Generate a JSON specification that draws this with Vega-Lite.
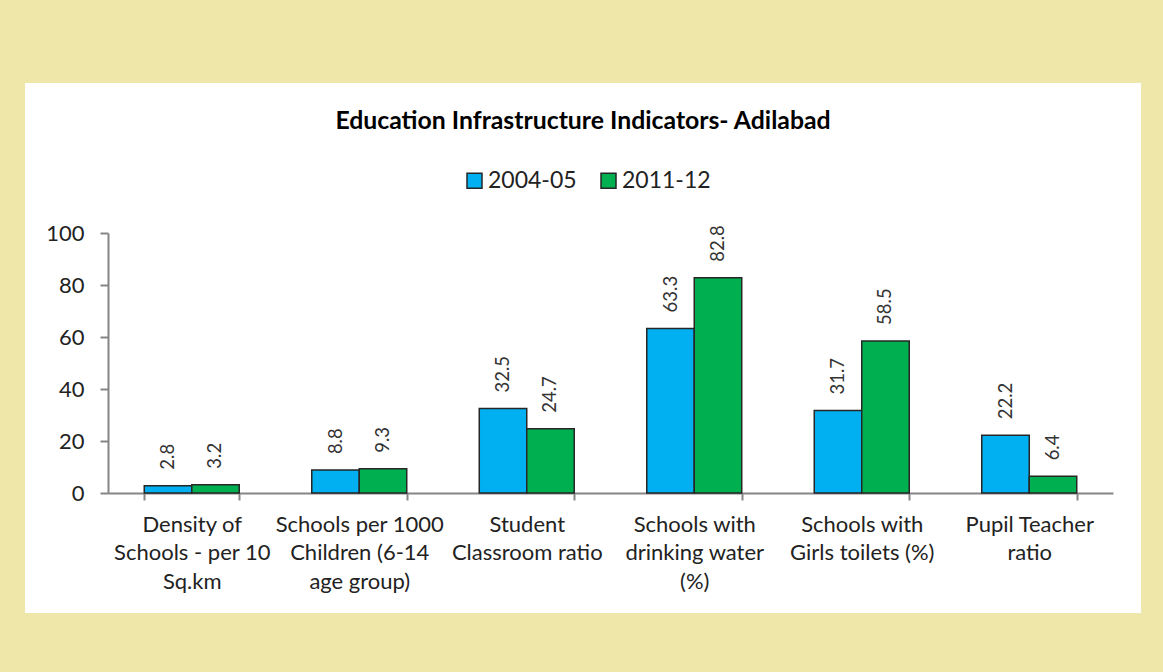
{
  "$schema": "https://vega.github.io/schema/vega-lite/v6.json",
  "width": 1116,
  "height": 530,
  "autosize": {"type": "none"},
  "padding": {"left": 25, "top": 83, "right": 22, "bottom": 59},
  "background": "#EFE6A9",
  "config": {
    "view": {"fill": "white", "stroke": null},
    "font": "Lato"
  },
  "title": {
    "text": "Education Infrastructure Indicators- Adilabad",
    "fontSize": 24.8,
    "fontWeight": "bold",
    "font": "Lato",
    "color": "#000000",
    "anchor": "middle",
    "frame": "group",
    "orient": "top",
    "baseline": "alphabetic",
    "offset": 0,
    "dy": 71
  },
  "data": {
    "values": [
      {"indicator": "Density of Schools - per 10 Sq.km", "year": "2004-05", "value": 2.8},
      {"indicator": "Density of Schools - per 10 Sq.km", "year": "2011-12", "value": 3.2},
      {"indicator": "Schools per 1000 Children (6-14 age group)", "year": "2004-05", "value": 8.8},
      {"indicator": "Schools per 1000 Children (6-14 age group)", "year": "2011-12", "value": 9.3},
      {"indicator": "Student Classroom ratio", "year": "2004-05", "value": 32.5},
      {"indicator": "Student Classroom ratio", "year": "2011-12", "value": 24.7},
      {"indicator": "Schools with drinking water (%)", "year": "2004-05", "value": 63.3},
      {"indicator": "Schools with drinking water (%)", "year": "2011-12", "value": 82.8},
      {"indicator": "Schools with Girls toilets (%)", "year": "2004-05", "value": 31.7},
      {"indicator": "Schools with Girls toilets (%)", "year": "2011-12", "value": 58.5},
      {"indicator": "Pupil Teacher ratio", "year": "2004-05", "value": 22.2},
      {"indicator": "Pupil Teacher ratio", "year": "2011-12", "value": 6.4}
    ]
  },
  "encoding": {
    "x": {
      "field": "indicator",
      "type": "nominal",
      "sort": null,
      "scale": {"range": [83, 1088], "paddingInner": 0.433, "paddingOuter": 0.2165},
      "axis": {
        "title": null,
        "offset": -120,
        "labelAngle": 0,
        "labelFontSize": 22,
        "labelLineHeight": 28.5,
        "labelColor": "#222222",
        "labelPadding": 14,
        "labelLimit": 400,
        "tickBand": "extent",
        "tickSize": 7,
        "tickWidth": 2,
        "tickColor": "#868686",
        "domainColor": "#868686",
        "domainWidth": 2,
        "grid": false,
        "labelExpr": "datum.value == 'Density of Schools - per 10 Sq.km' ? ['Density of', 'Schools - per 10', 'Sq.km'] : datum.value == 'Schools per 1000 Children (6-14 age group)' ? ['Schools per 1000', 'Children (6-14', 'age group)'] : datum.value == 'Student Classroom ratio' ? ['Student', 'Classroom ratio'] : datum.value == 'Schools with drinking water (%)' ? ['Schools with', 'drinking water', '(%)'] : datum.value == 'Schools with Girls toilets (%)' ? ['Schools with', 'Girls toilets (%)'] : datum.value == 'Pupil Teacher ratio' ? ['Pupil Teacher', 'ratio'] : ''"
      }
    },
    "xOffset": {
      "field": "year",
      "type": "nominal",
      "scale": {"paddingInner": 0, "paddingOuter": 0}
    },
    "y": {
      "field": "value",
      "type": "quantitative",
      "scale": {"domain": [0, 100], "range": [410, 150], "nice": false, "zero": true},
      "axis": {
        "title": null,
        "offset": -83,
        "values": [0, 20, 40, 60, 80, 100],
        "labelFontSize": 22,
        "labelColor": "#222222",
        "labelPadding": 16,
        "tickSize": 8,
        "tickWidth": 2,
        "tickColor": "#868686",
        "domainColor": "#868686",
        "domainWidth": 2,
        "grid": false
      }
    }
  },
  "layer": [
    {
      "mark": {"type": "bar", "stroke": "#262626", "strokeWidth": 1.5},
      "encoding": {
        "color": {
          "field": "year",
          "type": "nominal",
          "scale": {"domain": ["2004-05", "2011-12"], "range": ["#00B0F0", "#00B050"]},
          "legend": {
            "title": null,
            "orient": "none",
            "legendX": 438,
            "legendY": 86,
            "direction": "horizontal",
            "symbolType": "square",
            "symbolSize": 225,
            "symbolStrokeColor": "#262626",
            "symbolStrokeWidth": 1.5,
            "symbolOpacity": 1,
            "labelFontSize": 23,
            "labelColor": "#222222",
            "labelOffset": 2,
            "columnPadding": 20,
            "padding": 0,
            "labelLimit": 300
          }
        }
      }
    },
    {
      "mark": {
        "type": "text",
        "angle": 270,
        "align": "left",
        "baseline": "middle",
        "dx": 16,
        "fontSize": 18.5,
        "color": "#333333"
      },
      "encoding": {
        "text": {"field": "value", "type": "quantitative", "format": ".1f"}
      }
    }
  ]
}
